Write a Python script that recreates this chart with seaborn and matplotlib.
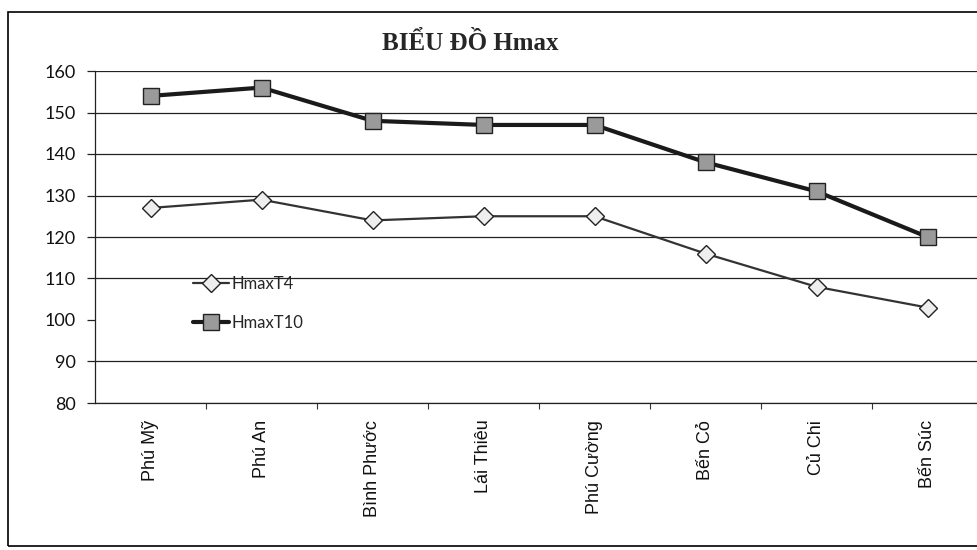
import matplotlib
matplotlib.use("Agg")
import matplotlib.pyplot as plt
from matplotlib.patches import Rectangle
from matplotlib.ticker import FixedLocator
import seaborn as sns
import pandas as pd

# Data
stations = ['Phú Mỹ', 'Phú An', 'Bình Phước', 'Lái Thiêu', 'Phú Cường', 'Bến Cỏ', 'Củ Chi', 'Bến Súc']
hmax_t4 = [127, 129, 124, 125, 125, 116, 108, 103]
hmax_t10 = [154, 156, 148, 147, 147, 138, 131, 120]
y_ticks = [80, 90, 100, 110, 120, 130, 140, 150, 160]
grid_levels = [80, 90, 110, 120, 130, 140, 150, 160]

df = pd.DataFrame({'pos': range(len(stations)), 'HmaxT4': hmax_t4, 'HmaxT10': hmax_t10})

sns.set_theme(style='white')
plt.rcParams['font.family'] = ['Liberation Sans', 'DejaVu Sans']

fig = plt.figure(figsize=(9.77, 5.5), dpi=100)
ax = fig.add_axes([95 / 977, 1 - 403 / 550, 888 / 977, 332 / 550])

# outer chart frame
fig.patches.append(Rectangle((8 / 977, 4 / 550), 1.2, 1 - 16 / 550, transform=fig.transFigure,
                             fill=False, edgecolor='black', linewidth=1.2))

for lvl in grid_levels:
    ax.axhline(lvl, color='#222222', linewidth=0.9, zorder=0)

sns.lineplot(data=df, x='pos', y='HmaxT4', ax=ax, color='#333333', linewidth=1.6,
             marker='D', markersize=9, markerfacecolor='#eeeeee', markeredgecolor='#222222',
             markeredgewidth=1.0, label='HmaxT4', zorder=3)
sns.lineplot(data=df, x='pos', y='HmaxT10', ax=ax, color='#1a1a1a', linewidth=3.0,
             marker='s', markersize=11, markerfacecolor='#9a9a9a', markeredgecolor='#222222',
             markeredgewidth=1.0, label='HmaxT10', zorder=3)

ax.set_xlim(-0.5, len(stations) - 0.5)
ax.set_ylim(80, 160)
ax.set_xticks(range(len(stations)))
ax.set_xticklabels(stations, rotation=90, fontsize=13, color='#111111')
ax.xaxis.set_minor_locator(FixedLocator([i + 0.5 for i in range(len(stations) - 1)]))
ax.tick_params(axis='x', which='major', length=0, pad=12)
ax.tick_params(axis='x', which='minor', length=4, width=0.8, color='#333333', bottom=True)
ax.set_yticks(y_ticks)
ax.set_yticklabels([str(v) for v in y_ticks], fontsize=13, family=['Lato', 'DejaVu Sans'], color='#111111')
ax.tick_params(axis='y', length=6, width=0.9, color='#222222', left=True, pad=8)
ax.set_xlabel('')
ax.set_ylabel('')

for side in ['top', 'right']:
    ax.spines[side].set_visible(False)
ax.spines['left'].set_color('#222222')
ax.spines['left'].set_linewidth(0.9)
ax.spines['bottom'].set_color('#222222')
ax.spines['bottom'].set_linewidth(0.9)

ax.legend(loc='center left', bbox_to_anchor=(0.11, 0.30), frameon=False, borderpad=0,
          borderaxespad=0, handlelength=2.2, handletextpad=0.1, labelspacing=1.4,
          prop={'family': ['Lato', 'DejaVu Sans'], 'size': 12})

fig.text(470 / 977, 1 - 43 / 550, 'BIỂU ĐỒ Hmax', ha='center', va='center', fontsize=18,
         fontweight='bold', family=['Liberation Serif', 'DejaVu Serif'])

fig.savefig('out.png', dpi=100, facecolor='white')
